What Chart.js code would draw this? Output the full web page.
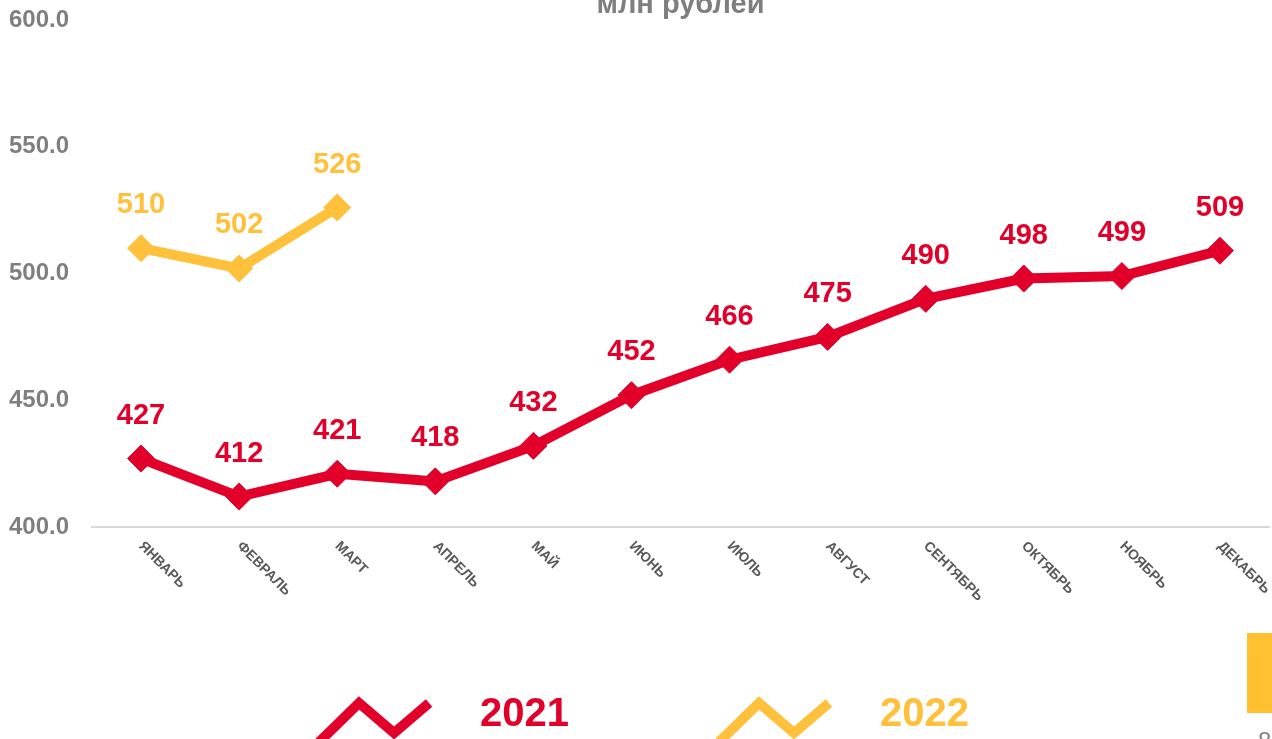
<!DOCTYPE html>
<html lang="ru">
<head>
<meta charset="utf-8">
<title>млн рублей</title>
<script src="https://cdn.jsdelivr.net/npm/chart.js@4/dist/chart.umd.min.js"></script>
<style>
  html, body { margin: 0; padding: 0; background: #fff; overflow: hidden; }
  body { width: 1272px; height: 739px; position: relative; }
  #wrap { position: absolute; left: 0; top: -40px; width: 1272px; height: 785px; }
  .deco { position: absolute; left: 1247px; top: 633px; width: 25px; height: 80px; background: #ffc12f; }
  .pagenum { position: absolute; left: 1258px; top: 727px; font: 24px 'Liberation Sans', Arial, sans-serif; color: #7f7f7f; }
</style>
</head>
<body>
<div id="wrap"><canvas id="salesChart"></canvas></div>
<div class="deco"></div>
<div class="pagenum">8</div>
<script>
const months = ['ЯНВАРЬ', 'ФЕВРАЛЬ', 'МАРТ', 'АПРЕЛЬ', 'МАЙ', 'ИЮНЬ', 'ИЮЛЬ', 'АВГУСТ', 'СЕНТЯБРЬ', 'ОКТЯБРЬ', 'НОЯБРЬ', 'ДЕКАБРЬ'];
const values2021 = [427, 412, 421, 418, 432, 452, 466, 475, 490, 498, 499, 509];
const values2022 = [510, 502, 526];
const yTicks = [400, 450, 500, 550, 600];
const seriesNames = ['2021', '2022'];

const RED = '#e2002b';
const YELLOW = '#ffc13b';
const FONT = "'Liberation Sans', Arial, sans-serif";

// зигзаг для легенды
function makeZigzag(color) {
    const c = document.createElement('canvas');
    c.width = 151;
    c.height = 60;
    const ctx = c.getContext('2d');
    ctx.strokeStyle = color;
    ctx.lineWidth = 10;
    ctx.lineCap = 'butt';
    ctx.lineJoin = 'miter';
    ctx.beginPath();
    ctx.moveTo(10, 57);
    ctx.lineTo(50, 18);
    ctx.lineTo(85, 48);
    ctx.lineTo(120, 18);
    ctx.stroke();
    return c;
}

// подписи значений над точками
const valueLabels = {
    id: 'valueLabels',
    afterDatasetsDraw(chart) {
        const ctx = chart.ctx;
        ctx.save();
        ctx.font = 'bold 29px ' + FONT;
        ctx.textAlign = 'center';
        ctx.textBaseline = 'middle';
        chart.data.datasets.forEach((ds, i) => {
            const meta = chart.getDatasetMeta(i);
            ctx.fillStyle = ds.borderColor;
            meta.data.forEach((pt, j) => {
                ctx.fillText(String(ds.data[j]), pt.x, pt.y - 43);
            });
        });
        ctx.restore();
    }
};

// месяцы под осью, наклон 45° вниз
const monthLabels = {
    id: 'monthLabels',
    afterDraw(chart) {
        const ctx = chart.ctx;
        const xScale = chart.scales.x;
        const y0 = chart.chartArea.bottom + 17;
        ctx.save();
        ctx.font = 'bold 14px ' + FONT;
        ctx.fillStyle = '#595959';
        ctx.textAlign = 'left';
        ctx.textBaseline = 'middle';
        months.forEach((m, i) => {
            const x = xScale.getPixelForValue(i);
            ctx.save();
            ctx.translate(x, y0);
            ctx.rotate(Math.PI / 4);
            ctx.fillText(m, 0, 0);
            ctx.restore();
        });
        ctx.restore();
    }
};

function initChart() {
    const zigzags = [makeZigzag(RED), makeZigzag(YELLOW)];
    const ctx = document.getElementById('salesChart').getContext('2d');
    new Chart(ctx, {
        type: 'line',
        data: {
            labels: months,
            datasets: [
                {
                    label: seriesNames[0],
                    data: values2021,
                    borderColor: RED,
                    backgroundColor: RED,
                    borderWidth: 10,
                    pointStyle: 'rectRot',
                    pointRadius: 13.5,
                    pointBorderWidth: 1,
                    tension: 0
                },
                {
                    label: seriesNames[1],
                    data: values2022,
                    borderColor: YELLOW,
                    backgroundColor: YELLOW,
                    borderWidth: 10,
                    pointStyle: 'rectRot',
                    pointRadius: 13.5,
                    pointBorderWidth: 1,
                    tension: 0
                }
            ]
        },
        options: {
            responsive: true,
            maintainAspectRatio: false,
            animation: false,
            events: [],
            layout: { autoPadding: false, padding: { left: 9, right: 3, top: 0, bottom: 0 } },
            scales: {
                x: {
                    offset: true,
                    grid: { display: false },
                    border: { display: true, color: '#d9d9d9', width: 2 },
                    ticks: { display: false },
                    afterFit: axis => { axis.height = 28; }
                },
                y: {
                    min: yTicks[0],
                    max: yTicks[yTicks.length - 1],
                    grid: { display: false, drawTicks: false },
                    border: { display: false },
                    afterBuildTicks: axis => { axis.ticks = yTicks.map(v => ({ value: v })); },
                    afterFit: axis => { axis.width = 83; },
                    ticks: {
                        crossAlign: 'far',
                        padding: 23,
                        color: '#7f7f7f',
                        font: { family: FONT, size: 24, weight: 'bold' },
                        callback: v => Number(v).toFixed(1)
                    }
                }
            },
            plugins: {
                title: {
                    display: true,
                    text: 'млн рублей',
                    fullSize: false,
                    color: '#7f7f7f',
                    font: { family: FONT, size: 29, weight: 'bold', lineHeight: 1 },
                    padding: { top: 30, bottom: 1 }
                },
                legend: {
                    display: true,
                    position: 'bottom',
                    labels: {
                        usePointStyle: true,
                        pointStyleWidth: 151,
                        padding: 140,
                        font: { family: FONT, size: 40, weight: 'bold' },
                        generateLabels: chart => chart.data.datasets.map((ds, i) => ({
                            text: ds.label,
                            fontColor: ds.borderColor,
                            fillStyle: ds.borderColor,
                            strokeStyle: ds.borderColor,
                            lineWidth: 0,
                            pointStyle: zigzags[i],
                            rotation: 0,
                            hidden: false,
                            datasetIndex: i
                        }))
                    }
                },
                tooltip: { enabled: false }
            }
        },
        plugins: [valueLabels, monthLabels]
    });
}

window.onload = initChart;
</script>
</body>
</html>
